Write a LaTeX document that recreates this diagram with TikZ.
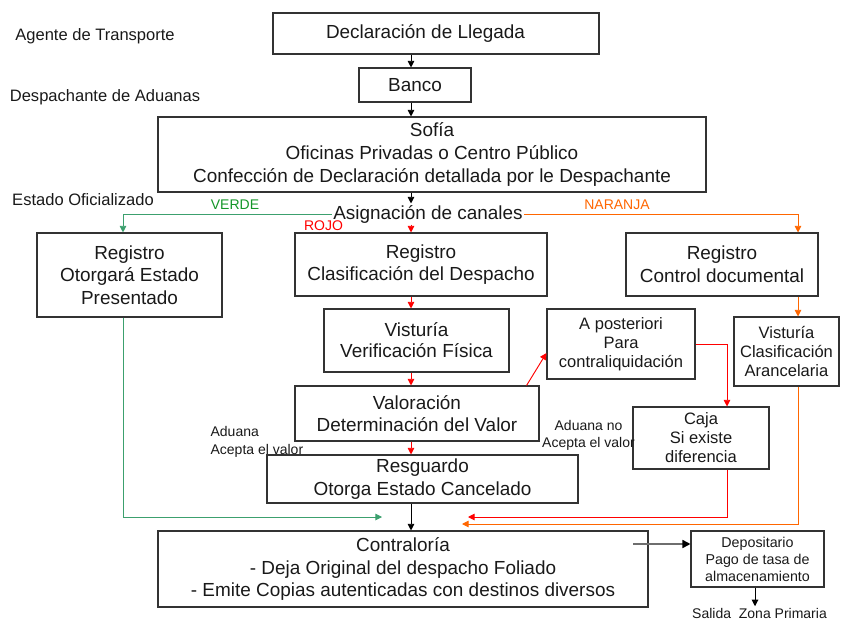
\documentclass[tikz,border=0pt]{standalone}
\usepackage{fontspec}
\setmainfont{Liberation Sans}
\usetikzlibrary{arrows.meta}
\definecolor{cgreen}{RGB}{60,160,110}
\definecolor{cgreentxt}{RGB}{20,150,40}
\definecolor{cred}{RGB}{255,0,0}
\definecolor{corange}{RGB}{255,102,0}
\definecolor{cgrayline}{RGB}{110,110,110}
\begin{document}
\begin{tikzpicture}[x=0.75pt,y=-0.75pt,
  box/.style={draw=black!80, line width=0.8pt, inner sep=0pt, align=center,
    font=\fontsize{14.2}{17}\selectfont, text=black!90},
  sbox/.style={box, font=\fontsize{12.4}{14.25}\selectfont},
  tbox/.style={box, font=\fontsize{10.7}{12.75}\selectfont},
  lab/.style={inner sep=1pt, font=\fontsize{12.4}{15}\selectfont, text=black!90},
  small/.style={inner sep=1pt, font=\fontsize{10.5}{12.75}\selectfont, text=black!90},
  arr/.style={line width=0.7pt, -{Triangle[length=5pt,width=5pt]}},
]
\useasboundingbox (0,0) rectangle (841,623);

% column coordinates
\coordinate (colx) at (411,0);
\coordinate (colG) at (123,0);
\coordinate (colR) at (727,0);
\coordinate (colO) at (798,0);
\coordinate (colS) at (755,0);

% boxes
\node[box, minimum width=244.5pt, minimum height=30.75pt] (decl) at (436,33.5) {Declaración de Llegada\hspace{15.75pt}};
\node[box, minimum width=84pt, minimum height=25.5pt] (banco) at (415,85) {Banco};
\node[box, minimum width=411pt, minimum height=56.25pt, font=\fontsize{14.2}{17.6}\selectfont] (sofia) at (432,154.5)
  {Sofía\\Oficinas Privadas o Centro Público\\Confección de Declaración detallada por le Despachante};
\node[inner sep=1pt, font=\fontsize{14.2}{17}\selectfont, text=black!90] (asig) at (428,214) {Asignación de canales};

\node[box, minimum width=138.75pt, minimum height=63pt] (reg1) at (129.5,275) {Registro\\Otorgará Estado\\Presentado};
\node[box, minimum width=189pt, minimum height=47.25pt] (reg2) at (421,264.5) {Registro\\Clasificación del Despacho};
\node[box, minimum width=144pt, minimum height=47.25pt] (reg3) at (722,264.5) {Registro\\Control documental};
\node[box, minimum width=138.75pt, minimum height=47.25pt, font=\fontsize{14.2}{15.75}\selectfont] (vist) at (416.5,340.5) {Visturía\\Verificación Física};
\node[box, minimum width=183pt, minimum height=41.25pt] (valor) at (417,413.5) {Valoración\\Determinación del Valor};
\node[box, minimum width=233.25pt, minimum height=36pt] (resg) at (422.5,479) {Resguardo\\Otorga Estado Cancelado};
\node[sbox, minimum width=111pt, minimum height=52.5pt] (apost) at (621,344) {A posteriori\\Para\\contraliquidación};
\node[sbox, minimum width=102pt, minimum height=46.5pt] (caja) at (701,438) {Caja\\Si existe\\diferencia};
\node[sbox, minimum width=78.75pt, minimum height=51.75pt] (vist2) at (786.5,351.5) {Visturía\\Clasificación\\Arancelaria};
\node[box, minimum width=367.5pt, minimum height=57pt] (contra) at (403,569)
  {Contraloría\\- Deja Original del despacho Foliado\\- Emite Copias autenticadas con destinos diversos};
\node[tbox, minimum width=99.75pt, minimum height=42pt] (depos) at (757.5,559) {Depositario\\Pago de tasa de\\almacenamiento};

% free labels
\node[lab] (agente) at (95,36) {Agente de Transporte};
\node[lab] (despach) at (105,97) {Despachante de Aduanas};
\node[lab] (estado) at (83,200) {Estado Oficializado};
\node[small, text=cgreentxt] (verde) at (235,205) {VERDE};
\node[small, text=cred] (rojo) at (323.5,226) {ROJO};
\node[small, text=corange] (naranja) at (617,205) {NARANJA};
\node[small, anchor=west, align=left, font=\fontsize{10.5}{13.5}\selectfont] (acepta) at (209,442) {Aduana\\Acepta el valor};
\node[small, align=center] (noacepta) at (588.5,435) {Aduana no\\Acepta el valor};
\node[small, font=\fontsize{10.5}{12.75}\selectfont] (salida) at (759.5,613) {Salida~ Zona Primaria};

% free ends
\coordinate (gEnd) at (382,517);
\coordinate (rEnd) at (468,517);
\coordinate (oEnd) at (462,524);
\coordinate (cStart) at (633,544);

% black connectors
\draw[arr] (decl.south -| colx) -- (banco.north -| colx);
\draw[arr] (banco.south -| colx) -- (sofia.north -| colx);
\draw[arr] (sofia.south -| colx) -- (asig.north -| colx);
\draw[arr] (resg.south -| colx) -- (contra.north -| colx);
\draw[line width=1.2pt, cgrayline, arrows={-{Triangle[length=6pt,width=6pt,black]}}] (cStart) -- (depos.west |- cStart);
\draw[arr] (depos.south -| colS) -- (salida.north -| colS);

% red chain
\draw[arr, cred] (asig.south -| colx) -- (reg2.north -| colx);
\draw[arr, cred] (reg2.south -| colx) -- (vist.north -| colx);
\draw[arr, cred] (vist.south -| colx) -- (valor.north -| colx);
\draw[arr, cred] (valor.south -| colx) -- (resg.north -| colx);
\draw[arr, cred] ([xshift=-9.75pt]valor.north east) -- ([yshift=-6.75pt]apost.west);
\draw[arr, cred] (apost.east) -| (caja.north -| colR);
\draw[arr, cred] (caja.south -| colR) |- (rEnd);

% green
\draw[arr, cgreen] (asig.west) -| (reg1.north -| colG);
\draw[arr, cgreen] (reg1.south -| colG) |- (gEnd);

% orange
\draw[arr, corange] (asig.east) -| (reg3.north -| colO);
\draw[arr, corange] (reg3.south -| colO) -- (vist2.north -| colO);
\draw[arr, corange] (vist2.south -| colO) |- (oEnd);
\end{tikzpicture}
\end{document}
